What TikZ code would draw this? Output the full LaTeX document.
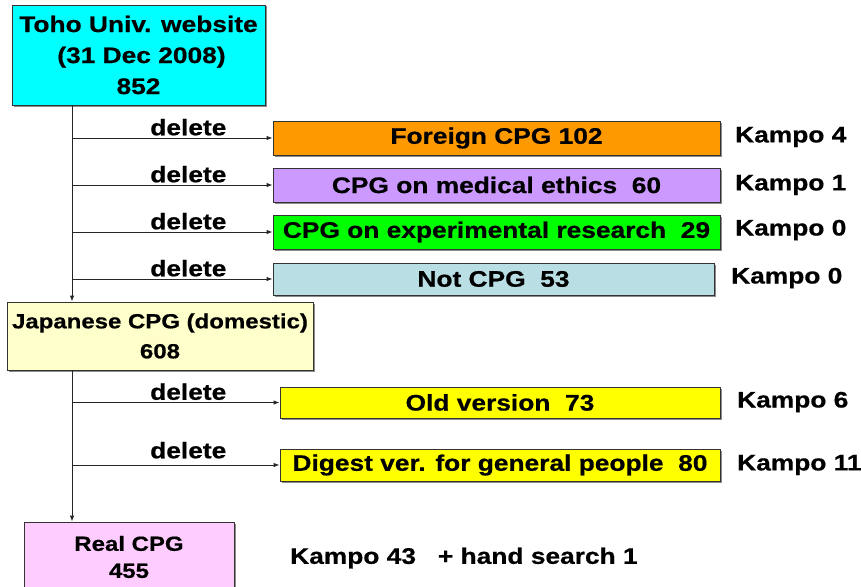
\documentclass[tikz,border=0pt]{standalone}
\usepackage{fontspec}
\setmainfont{Liberation Sans}[FakeStretch=1.17,BoldFeatures={FakeBold=0.6}]
\usetikzlibrary{arrows.meta,shadows}
\definecolor{tohocyan}{RGB}{0,255,255}
\definecolor{foreignorange}{RGB}{255,153,0}
\definecolor{ethicspurple}{RGB}{204,153,255}
\definecolor{researchgreen}{RGB}{0,255,0}
\definecolor{notcpgblue}{RGB}{185,223,228}
\definecolor{domesticyellow}{RGB}{255,255,204}
\definecolor{oldyellow}{RGB}{255,255,0}
\definecolor{realpink}{RGB}{255,204,255}
\tikzset{
  box/.style={draw=black!80, line width=0.8pt, inner sep=0pt, align=center,
    drop shadow={shadow xshift=1.5pt, shadow yshift=-1.5pt, fill=black!45, opacity=1}},
  kampo/.style={anchor=west, inner sep=0pt},
  flow/.style={draw=black!85, line width=1pt, -{Latex[length=6pt,width=4.5pt]}},
  dellabel/.style={pos=.58, above=1pt, inner sep=1pt},
}
\begin{document}
\begin{tikzpicture}[x=1pt,y=-1pt,every node/.style={font=\fontsize{22.5}{31}\selectfont\bfseries}]
\useasboundingbox (0,0) rectangle (861,586);
\node[box,fill=tohocyan,minimum width=253,minimum height=100] (toho) at (138.5,55) {Toho Univ. website\\\hspace*{6pt}(31 Dec 2008)\\852};
\node[box,fill=foreignorange,minimum width=447,minimum height=34] (foreign) at (496.5,138) {Foreign CPG 102};
\node[box,fill=ethicspurple,minimum width=447,minimum height=34] (ethics) at (496.5,185) {CPG on medical ethics~~60};
\node[box,fill=researchgreen,minimum width=447,minimum height=34] (research) at (496.5,232) {CPG on experimental research~~29};
\node[box,fill=notcpgblue,minimum width=441,minimum height=32] (notcpg) at (493.5,279) {Not CPG~~53};
\node[box,fill=domesticyellow,minimum width=306,minimum height=68,font=\fontsize{20.5}{30}\selectfont\bfseries] (domestic) at (160,336) {Japanese CPG (domestic)\\608};
\node[box,fill=oldyellow,minimum width=440,minimum height=31] (oldver) at (500,402.5) {Old version~~73};
\node[box,fill=oldyellow,minimum width=440,minimum height=32] (digest) at (500,465) {Digest ver. for general people~~80};
\node[box,fill=realpink,minimum width=210,minimum height=70,font=\fontsize{20.5}{27}\selectfont\bfseries] (realcpg) at (129,557) {Real CPG\\455};
% kampo counts
\node[kampo] (kfor) at (735,137) {Kampo 4};
\node[kampo] (keth) at (735,185) {Kampo 1};
\node[kampo] (kres) at (735,230) {Kampo 0};
\node[kampo] (knot) at (731,278) {Kampo 0};
\node[kampo] (kold) at (737,402) {Kampo 6};
\node[kampo] (kdig) at (737,465) {Kampo 11};
\node[kampo] (kreal) at (290,558) {Kampo 43~~~+ hand search 1};
% trunks
\coordinate (trunkA) at (toho.south -| 72,0);
\coordinate (trunkB) at (domestic.south -| 72,0);
\draw[flow] (trunkA) -- (trunkA |- domestic.north);
\draw[flow] (trunkB) -- (trunkB |- realcpg.north);
% deletions
\draw[flow] (trunkA |- foreign.west) -- node[dellabel] {delete} (foreign.west);
\draw[flow] (trunkA |- ethics.west) -- node[dellabel] {delete} (ethics.west);
\draw[flow] (trunkA |- research.west) -- node[dellabel] {delete} (research.west);
\draw[flow] (trunkA |- notcpg.west) -- node[dellabel] {delete} (notcpg.west);
\draw[flow] (trunkB |- oldver.west) -- node[dellabel,pos=.56] {delete} (oldver.west);
\draw[flow] (trunkB |- digest.west) -- node[dellabel,pos=.56,above=4pt] {delete} (digest.west);
\end{tikzpicture}
\end{document}
